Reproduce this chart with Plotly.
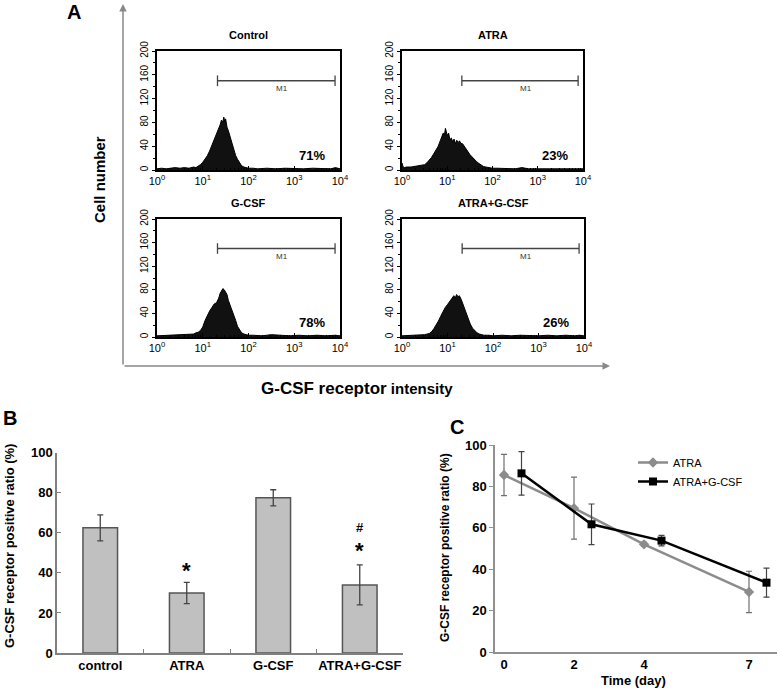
import plotly.graph_objects as go

# ---------------- data ----------------
# Panel A: flow-cytometry histograms (log10 intensity, cell count)
lx_control = [0.0,0.1,0.2,0.3,0.4,0.5,0.6,0.7,0.8,0.85,0.9,0.95,1.0,1.05,1.1,1.15,1.2,1.25,1.3,1.35,1.38,1.41,1.44,1.46,1.48,1.5,1.53,1.56,1.6,1.64,1.68,1.72,1.76,1.8,1.85,1.9,1.95,2.0,2.1,2.2,2.4,2.6,2.8,3.0,3.2,3.4,3.6,3.8,3.9,4.0]
cnt_control = [2,3,2,3,4,3,4,3,5,4,6,9,13,18,24,32,41,50,60,70,76,84,80,89,82,86,72,66,55,43,34,24,18,12,7,5,4,3,3,2,3,2,3,2,2,3,2,2,4,2]

lx_atra = [0.0,0.02,0.05,0.1,0.2,0.3,0.4,0.45,0.5,0.55,0.6,0.65,0.7,0.75,0.8,0.85,0.88,0.91,0.94,0.96,0.98,1.0,1.03,1.06,1.09,1.12,1.15,1.18,1.21,1.24,1.27,1.3,1.34,1.38,1.42,1.46,1.5,1.55,1.6,1.65,1.7,1.75,1.8,1.85,1.9,2.0,2.1,2.3,2.5,2.65,2.8,3.0,3.2,3.4,3.6,3.8,3.9,4.0]
cnt_atra = [12,6,4,5,5,6,7,8,9,12,16,21,27,33,40,50,56,62,60,70,64,58,62,50,54,47,52,44,50,46,49,45,44,39,35,30,26,22,17,14,11,8,6,5,4,3,3,3,2,4,2,2,2,3,2,2,3,2]

lx_gcsf = [0.0,0.2,0.4,0.6,0.8,0.85,0.9,0.95,1.0,1.05,1.1,1.15,1.2,1.25,1.3,1.35,1.38,1.41,1.44,1.47,1.5,1.53,1.56,1.6,1.64,1.68,1.72,1.76,1.8,1.85,1.9,1.95,2.0,2.1,2.3,2.5,2.7,2.9,3.1,3.3,3.5,3.7,3.9,4.0]
cnt_gcsf = [2,3,3,4,5,7,8,11,17,28,37,44,50,56,58,66,74,78,82,80,76,72,62,54,46,38,28,18,12,7,5,4,3,3,2,4,3,2,3,2,3,2,3,2]

lx_ag = [0.0,0.2,0.4,0.5,0.6,0.65,0.7,0.75,0.8,0.85,0.9,0.95,1.0,1.05,1.1,1.14,1.17,1.2,1.23,1.26,1.3,1.34,1.38,1.42,1.46,1.5,1.55,1.6,1.65,1.7,1.75,1.8,1.9,2.0,2.2,2.4,2.6,2.8,3.0,3.2,3.4,3.6,3.8,3.9,4.0]
cnt_ag = [2,3,3,4,6,9,14,20,27,35,43,50,55,60,64,70,66,72,68,70,64,55,46,38,30,22,15,10,7,5,4,3,3,2,3,2,3,2,2,3,2,3,2,3,2]

hist_titles = ["Control", "ATRA", "G-CSF", "ATRA+G-CSF"]
hist_percent = ["71%", "23%", "78%", "26%"]
gate_m1 = [21, 7800]          # M1 marker gate (intensity)
hist_yticks = [0, 40, 80, 120, 160, 200]
hist_xtick_exp = [0, 1, 2, 3, 4]

# Panel B: bar chart
b_categories = ["control", "ATRA", "G-CSF", "ATRA+G-CSF"]
b_values = [62.5, 30.0, 77.5, 34.0]
b_errors = [6.5, 5.3, 4.0, 10.0]

# Panel C: time course
c_atra_days = [0, 2, 4, 7]
c_atra_vals = [85.5, 69.5, 52.0, 29.0]
c_atra_err = [10.0, 15.0, 1.0, 10.0]
c_ag_days = [0.5, 2.5, 4.5, 7.5]
c_ag_vals = [86.3, 61.7, 53.8, 33.5]
c_ag_err = [10.5, 9.8, 2.5, 7.0]
c_xticks = [0, 2, 4, 7]

# ---------------- figure ----------------
W, H = 778, 698
FONT = "Arial, Liberation Sans, sans-serif"

def fx(px):
    return px / W

def fy(py):
    return 1 - py / H

def ann(**kw):
    kw.setdefault("xanchor", "center")
    kw.setdefault("yanchor", "middle")
    kw.setdefault("showarrow", False)
    return kw

fig = go.Figure()

hist_sets = [(lx_control, cnt_control), (lx_atra, cnt_atra), (lx_gcsf, cnt_gcsf), (lx_ag, cnt_ag)]
hist_boxes = [(157, 340, 51, 170), (402, 583, 51, 170), (157, 340, 219, 337), (402, 584, 219, 337)]

layout = dict(
    width=W, height=H, margin=dict(l=0, r=0, t=0, b=0, autoexpand=False),
    paper_bgcolor="white", plot_bgcolor="white",
    font=dict(family=FONT, color="black"),
    showlegend=True,
)

annotations = []

minor_x = []
for d in range(4):
    for m in range(2, 10):
        minor_x.append(m * 10 ** d)

for i, ((lx, cnt), (x0, x1, y0, y1)) in enumerate(zip(hist_sets, hist_boxes)):
    n = i + 1
    xa = "x" if n == 1 else f"x{n}"
    ya = "y" if n == 1 else f"y{n}"
    xs = [10 ** v for v in lx]
    fig.add_trace(go.Scatter(x=xs, y=cnt, mode="lines", fill="tozeroy",
                             fillcolor="#111111", line=dict(color="black", width=1),
                             xaxis=xa, yaxis=ya, showlegend=False, hoverinfo="skip"))
    # M1 gate marker
    g0, g1 = gate_m1
    fig.add_trace(go.Scatter(x=[g0, g1, None, g0, g0, None, g1, g1],
                             y=[150, 150, None, 141, 159, None, 141, 159],
                             mode="lines", line=dict(color="#444444", width=1.3),
                             xaxis=xa, yaxis=ya, showlegend=False, hoverinfo="skip"))
    axcommon = dict(showline=True, linecolor="black", linewidth=1.5, mirror=True,
                    showgrid=False, zeroline=False, automargin=False)
    layout[f"xaxis{'' if n == 1 else n}"] = dict(
        domain=[fx(x0), fx(x1)], anchor=ya, type="log", range=[0, 4],
        tickvals=[10 ** e for e in hist_xtick_exp],
        ticktext=[f"10<sup>{e}</sup>" for e in hist_xtick_exp],
        ticks="inside", ticklen=4, tickcolor="black",
        minor=dict(tickvals=minor_x, ticks="inside", ticklen=2, tickcolor="black"),
        tickfont=dict(size=11, family=FONT), **axcommon)
    layout[f"yaxis{'' if n == 1 else n}"] = dict(
        domain=[fy(y1), fy(y0)], anchor=xa, range=[0, 200],
        tickvals=hist_yticks, ticks="outside", ticklen=3, tickcolor="black",
        minor=dict(dtick=20, ticks="outside", ticklen=2, tickcolor="black"),
        tickangle=-90, tickfont=dict(size=10, family=FONT), **axcommon)
    annotations.append(ann(text=f"<b>{hist_titles[i]}</b>", x=fx((x0 + x1) / 2), y=fy(y0 - 16),
                           xref="paper", yref="paper", font=dict(size=11, family=FONT)))
    annotations.append(ann(text="M1", x=2.73, y=137, xref=xa, yref=ya,
                           font=dict(size=8, family=FONT, color="#333")))
    annotations.append(ann(text=f"<b>{hist_percent[i]}</b>", x=3.38, y=24, xref=xa, yref=ya,
                           font=dict(size=13, family=FONT)))

# Panel A frame arrows and labels
annotations.append(dict(x=fx(123), y=fy(4), ax=0, ay=362, xref="paper", yref="paper",
                        showarrow=True, arrowhead=2, arrowsize=1,
                        arrowwidth=1.5, arrowcolor="#888888", text=""))
annotations.append(dict(x=fx(610), y=fy(366), ax=-487, ay=0, xref="paper", yref="paper",
                        showarrow=True, arrowhead=2, arrowsize=1,
                        arrowwidth=1.5, arrowcolor="#888888", text=""))
annotations.append(ann(text="<b>A</b>", x=fx(74), y=fy(12), xref="paper", yref="paper",
                       font=dict(size=20, family=FONT)))
annotations.append(ann(text="<b>Cell number</b>", x=fx(100), y=fy(180), xref="paper", yref="paper",
                       textangle=-90, font=dict(size=15, family=FONT)))
annotations.append(ann(text="<b><span style='font-size:17px'>G-CSF receptor</span> intensity</b>",
                       x=fx(357), y=fy(388), xref="paper", yref="paper",
                       font=dict(size=15, family=FONT)))

# Panel B
fig.add_trace(go.Bar(x=b_categories, y=b_values,
                     error_y=dict(type="data", array=b_errors, color="#444444", thickness=1.3, width=3),
                     marker=dict(color="#c0c0c0", line=dict(color="#555555", width=1.5)),
                     xaxis="x5", yaxis="y5", showlegend=False, hoverinfo="skip"))
layout["xaxis5"] = dict(domain=[fx(57), fx(403)], anchor="y5", showline=True, linecolor="#808080",
                        linewidth=1.5, ticks="inside", tickson="boundaries", ticklen=4,
                        tickcolor="#808080", showgrid=False, zeroline=False, automargin=False,
                        tickangle=0,
                        tickvals=b_categories, ticktext=[f"<b>{c}</b>" for c in b_categories],
                        tickfont=dict(size=13, family=FONT, color="black"))
layout["yaxis5"] = dict(domain=[fy(653), fy(452.7)], anchor="x5", range=[0, 100],
                        tickvals=[0, 20, 40, 60, 80, 100],
                        ticktext=[f"<b>{v}</b>" for v in [0, 20, 40, 60, 80, 100]],
                        showline=True, linecolor="#808080", linewidth=1.5, ticks="inside",
                        ticklen=4, tickcolor="#808080", showgrid=False, zeroline=False,
                        automargin=False,
                        tickfont=dict(size=13, family=FONT, color="black"))
layout["bargap"] = 0.6
annotations.append(ann(text="<b>B</b>", x=fx(10), y=fy(418), xref="paper", yref="paper",
                       font=dict(size=20, family=FONT)))
annotations.append(ann(text="<b>G-CSF receptor positive ratio (%)</b>", x=fx(9), y=fy(546),
                       xref="paper", yref="paper", textangle=-90,
                       font=dict(size=13, family=FONT)))
annotations.append(ann(text="<b>*</b>", x="ATRA", y=41, xref="x5", yref="y5",
                       font=dict(size=22, family=FONT)))
annotations.append(ann(text="<b>*</b>", x="ATRA+G-CSF", y=51, xref="x5", yref="y5",
                       font=dict(size=22, family=FONT)))
annotations.append(ann(text="<b>#</b>", x="ATRA+G-CSF", y=62.5, xref="x5", yref="y5",
                       font=dict(size=13, family=FONT)))

# Panel C
fig.add_trace(go.Scatter(x=c_atra_days, y=c_atra_vals, name="ATRA", mode="lines+markers",
                         line=dict(color="#8c8c8c", width=2.5),
                         marker=dict(symbol="diamond", size=8, color="#8c8c8c"),
                         error_y=dict(type="data", array=c_atra_err, color="#707070", thickness=1.2, width=3),
                         xaxis="x6", yaxis="y6"))
fig.add_trace(go.Scatter(x=c_ag_days, y=c_ag_vals, name="ATRA+G-CSF", mode="lines+markers",
                         line=dict(color="black", width=2.5),
                         marker=dict(symbol="square", size=8, color="black"),
                         error_y=dict(type="data", array=c_ag_err, color="#444444", thickness=1.2, width=3),
                         xaxis="x6", yaxis="y6"))
layout["xaxis6"] = dict(domain=[fx(495), fx(777)], anchor="y6", range=[-0.257, 7.8],
                        tickvals=c_xticks, ticktext=[f"<b>{v}</b>" for v in c_xticks],
                        showline=True, linecolor="#909090", linewidth=1.5, ticks="",
                        showgrid=False, zeroline=False, automargin=False,
                        tickfont=dict(size=13, family=FONT, color="black"))
layout["yaxis6"] = dict(domain=[fy(652), fy(445)], anchor="x6", range=[0, 100],
                        tickvals=[0, 20, 40, 60, 80, 100],
                        ticktext=[f"<b>{v}</b>" for v in [0, 20, 40, 60, 80, 100]],
                        showline=True, linecolor="#909090", linewidth=1.5, ticks="outside",
                        ticklen=4, tickcolor="#909090", showgrid=False, zeroline=False,
                        automargin=False,
                        tickfont=dict(size=13, family=FONT, color="black"))
annotations.append(ann(text="<b>C</b>", x=fx(457), y=fy(427), xref="paper", yref="paper",
                       font=dict(size=20, family=FONT)))
annotations.append(ann(text="<b>G-CSF receptor positive ratio (%)</b>", x=fx(445), y=fy(548),
                       xref="paper", yref="paper", textangle=-90,
                       font=dict(size=12, family=FONT)))
annotations.append(ann(text="<b>Time (day)</b>", x=fx(633), y=fy(680), xref="paper", yref="paper",
                       font=dict(size=13, family=FONT)))

layout["legend"] = dict(x=fx(633), y=fy(448), xanchor="left", yanchor="top",
                        bgcolor="rgba(0,0,0,0)", font=dict(size=11, family=FONT),
                        tracegroupgap=4, itemwidth=30)
layout["annotations"] = annotations
fig.update_layout(**layout)

fig.write_html("out.html", config={"displayModeBar": False},
               post_script="document.body.style.margin='0';document.body.style.overflow='hidden';")
